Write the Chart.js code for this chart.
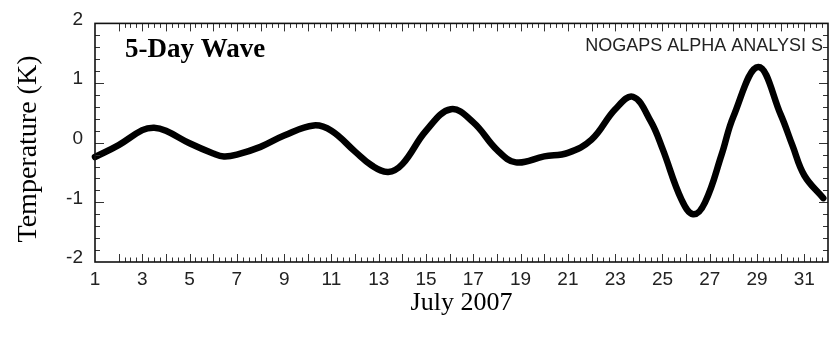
<!DOCTYPE html>
<html>
<head>
<meta charset="utf-8">
<script src="https://cdn.jsdelivr.net/npm/chart.js@4/dist/chart.umd.min.js"></script>
<style>
  html, body { margin: 0; padding: 0; background: #fff; }
  canvas { display: block; }
</style>
</head>
<body>
<canvas id="wave" width="832" height="338"></canvas>
<script>
// Day of July 2007 and the 5-day wave temperature anomaly (K)
const days = [1, 2, 3, 3.5, 4, 5, 6, 6.45, 7, 8, 9, 10.25, 11, 12, 12.7, 13.4, 14, 15, 16.05,
              17, 18, 18.8, 20, 21, 22, 23, 23.75, 24.5, 25, 25.8, 26.3, 26.8, 27.5, 28, 29.05, 30, 30.5, 31, 31.8];
const temps = [-0.24, -0.04, 0.21, 0.25, 0.2, -0.01, -0.18, -0.23, -0.2, -0.07, 0.12, 0.29, 0.2, -0.15, -0.38, -0.49, -0.36, 0.2, 0.56,
               0.34, -0.12, -0.33, -0.23, -0.17, 0.05, 0.56, 0.77, 0.36, -0.1, -0.95, -1.2, -1.0, -0.2, 0.44, 1.27, 0.47, -0.05, -0.55, -0.93];

const xTickDays = [1, 3, 5, 7, 9, 11, 13, 15, 17, 19, 21, 23, 25, 27, 29, 31];
const yTickValues = [-2, -1, 0, 1, 2];

const panelTitle = '5-Day Wave';
const sourceNote = 'NOGAPS ALPHA ANALYSI S';
const xTitle = 'July 2007';
const yTitle = 'Temperature (K)';

// Frame around the plot with inward-pointing major/minor ticks on all four sides,
// plus the panel title, the data source note and the vertical axis title.
const framePlugin = {
  id: 'frame',
  afterDatasetsDraw(chart) {
    const { ctx, chartArea: a, scales: { x, y } } = chart;
    ctx.save();
    ctx.strokeStyle = '#333';
    ctx.lineWidth = 1;
    ctx.beginPath();
    for (let i = 4; i < 31 * 4; i++) {
      const v = 1 + i / 4;
      const px = Math.round(x.getPixelForValue(v)) + 0.5;
      const len = (i % 4 === 0) ? 8 : 4.5;
      ctx.moveTo(px, a.bottom); ctx.lineTo(px, a.bottom - len);
      ctx.moveTo(px, a.top); ctx.lineTo(px, a.top + len);
    }
    for (let i = -9; i <= 9; i++) {
      const v = i / 5;
      const py = Math.round(y.getPixelForValue(v)) + 0.5;
      const len = (i % 5 === 0) ? 9 : 5;
      ctx.moveTo(a.left, py); ctx.lineTo(a.left + len, py);
      ctx.moveTo(a.right, py); ctx.lineTo(a.right - len, py);
    }
    ctx.stroke();

    ctx.strokeStyle = '#111';
    ctx.lineWidth = 1.6;
    ctx.strokeRect(a.left, a.top, a.right - a.left, a.bottom - a.top);

    ctx.fillStyle = '#000';
    ctx.textBaseline = 'alphabetic';
    ctx.textAlign = 'left';
    ctx.font = 'bold 27px "Liberation Serif"';
    ctx.fillText(panelTitle, 125, 57);

    ctx.fillStyle = '#222';
    ctx.textAlign = 'right';
    ctx.font = '18px "Liberation Sans"';
    ctx.fillText(sourceNote, 823, 51);

    // vertical axis title, rotated
    ctx.translate(29, 149);
    ctx.rotate(-Math.PI / 2);
    ctx.fillStyle = '#000';
    ctx.textAlign = 'center';
    ctx.textBaseline = 'middle';
    ctx.font = '28px "Liberation Serif"';
    ctx.fillText(yTitle, 0, 0);
    ctx.restore();
  }
};

new Chart(document.getElementById('wave'), {
  type: 'line',
  data: {
    datasets: [{
      data: days.map((d, i) => ({ x: d, y: temps[i] })),
      borderColor: '#000',
      borderWidth: 6.5,
      borderCapStyle: 'round',
      borderJoinStyle: 'round',
      tension: 0.4,
      pointRadius: 0,
      fill: false,
      clip: false
    }]
  },
  options: {
    responsive: false,
    animation: false,
    devicePixelRatio: 1,
    layout: { padding: { top: 19, right: 4, left: 0, bottom: 0 } },
    plugins: { legend: { display: false }, tooltip: { enabled: false } },
    scales: {
      x: {
        type: 'linear',
        min: 1,
        max: 32,
        afterBuildTicks(scale) { scale.ticks = xTickDays.map(v => ({ value: v })); },
        afterFit(scale) { scale.height = 76; },
        grid: { display: false, drawTicks: false },
        border: { display: false },
        ticks: {
          color: '#222',
          padding: 6,
          maxRotation: 0,
          autoSkip: false,
          font: { family: '"Liberation Sans"', size: 19 }
        },
        title: {
          display: true,
          text: xTitle,
          color: '#000',
          padding: { top: 0, bottom: 19 },
          font: { family: '"Liberation Serif"', size: 26, lineHeight: 1.2 }
        }
      },
      y: {
        type: 'linear',
        min: -2,
        max: 2,
        afterBuildTicks(scale) { scale.ticks = yTickValues.map(v => ({ value: v })); },
        afterFit(scale) { scale.width = 95; },
        grid: { display: false, drawTicks: false },
        border: { display: false },
        ticks: {
          color: '#222',
          padding: 12,
          labelOffset: -4,
          font: { family: '"Liberation Sans"', size: 19 }
        }
      }
    }
  },
  plugins: [framePlugin]
});
</script>
</body>
</html>
